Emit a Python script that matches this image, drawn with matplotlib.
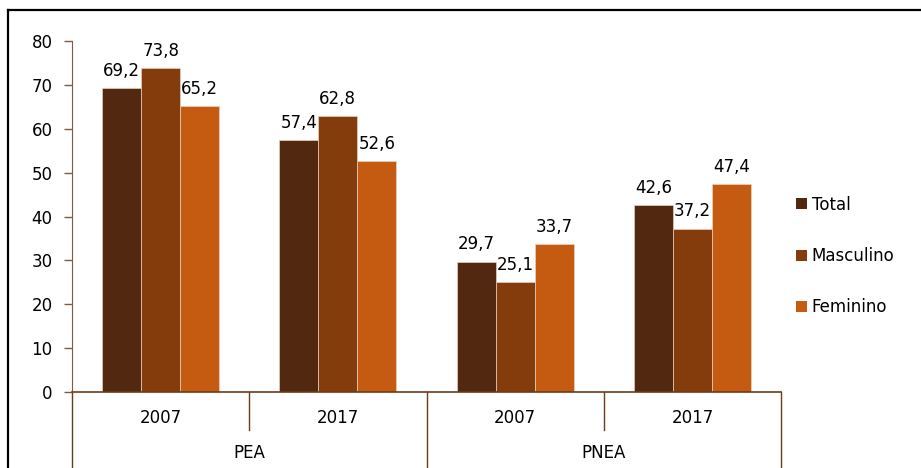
import numpy as np
import matplotlib.pyplot as plt
from matplotlib.lines import Line2D
from matplotlib.patches import Patch

# data
groups = ["PEA", "PNEA"]
years = ["2007", "2017", "2007", "2017"]
series = ["Total", "Masculino", "Feminino"]
total = [69.2, 57.4, 29.7, 42.6]
masculino = [73.8, 62.8, 25.1, 37.2]
feminino = [65.2, 52.6, 33.7, 47.4]
colors = ["#532811", "#843c0c", "#c55a11"]

W, H = 921, 468
FS = 12
plt.rcParams['font.family'] = ['DejaVu Sans']
fig = plt.figure(figsize=(W / 100, H / 100), dpi=100)

# axes in pixel layout
left, right, top, bottom = 72, 781, 41, 392
ax = fig.add_axes([left / W, (H - bottom) / H, (right - left) / W, (bottom - top) / H])

x = np.arange(len(years))
bw = 0.22
for i, (vals, name) in enumerate(zip([total, masculino, feminino], series)):
    bars = ax.bar(x + (i - 1) * bw, vals, bw, color=colors[i], edgecolor="#e8d2c0",
                  linewidth=0.5, label=name)
    for b, v in zip(bars, vals):
        ax.annotate(f"{v:.1f}".replace(".", ","), (b.get_x() + b.get_width() / 2, v),
                    xytext=(0, 6), textcoords="offset points", ha="center", va="bottom",
                    fontsize=FS)

ax.set_xlim(-0.5, 3.5)
ax.set_ylim(0, 80)
ax.set_yticks(range(0, 81, 10))
ax.tick_params(axis="y", direction="out", length=6, width=1, color="#7f5a44",
               labelsize=FS, pad=8)
ax.set_xticks([])
for s in ["top", "right"]:
    ax.spines[s].set_visible(False)
ax.spines["left"].set_color("#7f5a44")
ax.spines["bottom"].set_color("#6e3b17")
ax.spines["bottom"].set_linewidth(1.2)

# multi-level category axis
tr = ax.get_xaxis_transform()
hpx = bottom - top
inner = -(430 - bottom) / hpx
outer = -(H - bottom + 2) / hpx
for b in [-0.5, 0.5, 1.5, 2.5, 3.5]:
    y1 = outer if b in (-0.5, 1.5, 3.5) else inner
    ax.plot([b, b], [0, y1], transform=tr, color="#6e3b17", lw=1, clip_on=False)
for xi, yr in zip(x, years):
    ax.text(xi, -(418 - bottom) / hpx, yr, transform=tr, ha="center", va="center", fontsize=FS)
for gi, g in enumerate(groups):
    ax.text(0.5 + 2 * gi, -(453 - bottom) / hpx, g, transform=tr, ha="center", va="center",
            fontsize=FS)

# legend
handles = [Patch(facecolor=c, edgecolor="none", label=s) for c, s in zip(colors, series)]
fig.legend(handles=handles, loc="center left", bbox_to_anchor=(796 / W, (H - 256) / H),
           frameon=False, fontsize=FS, handlelength=0.65, handleheight=0.65,
           handletextpad=0.3, labelspacing=2.0, borderaxespad=0, borderpad=0)

# outer frame (top and left edges)
fig.add_artist(Line2D([8 / W, 8 / W], [0, (H - 10) / H], color="black", lw=1.6))
fig.add_artist(Line2D([8 / W, 1], [(H - 10) / H, (H - 10) / H], color="black", lw=1.6))

fig.savefig("out.png", dpi=100)
